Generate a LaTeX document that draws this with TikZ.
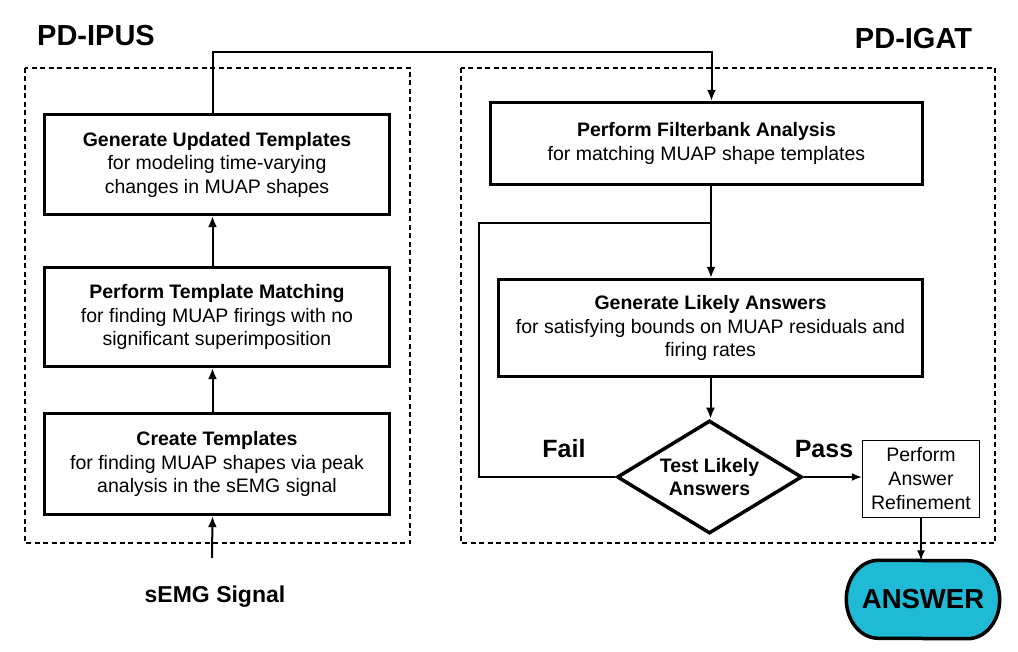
\documentclass[tikz,border=0pt]{standalone}
\usepackage{fontspec}
\setmainfont{Liberation Sans}
\usetikzlibrary{shapes.geometric,arrows.meta}
\definecolor{answercyan}{RGB}{31,186,214}
\newcommand\myfs[2]{\fontsize{#1}{#2}\selectfont}
\begin{document}
\begin{tikzpicture}[x=1pt,y=-1pt,
  mainbox/.style={draw,line width=3.3pt,align=center,inner sep=0pt,font=\myfs{19.5}{23.5}},
  thinbox/.style={draw,line width=1.5pt,align=center,inner sep=0pt,font=\myfs{19.5}{24}},
  groupbox/.style={draw,line width=1.3pt,dash pattern=on 5pt off 3.5pt},
  conn/.style={line width=2pt,-{Latex[length=11pt,width=9pt]}},
  thinconn/.style={line width=1.4pt,-{Latex[length=10pt,width=8pt]}},
  plainline/.style={line width=2pt},
  titletext/.style={font=\bfseries\myfs{29}{29}},
  lbltext/.style={font=\bfseries\myfs{25}{25}},
  terminal/.style={draw,fill=answercyan,line width=3.5pt}]

\useasboundingbox (0,0) rectangle (1018,652);

% group frames
\draw[groupbox] (25,68) rectangle (410,543);
\draw[groupbox] (461,68) rectangle (995,543);

\node[titletext] (tl) at (96,36) {PD-IPUS};
\node[titletext] (tr) at (913.5,39) {PD-IGAT};

% left column
\node[mainbox,minimum width=345pt,minimum height=100pt] (b1) at (217,164.5)
  {\textbf{Generate Updated Templates}\\for modeling time-varying\\changes in MUAP shapes};
\node[mainbox,minimum width=345pt,minimum height=99pt] (b2) at (217,317)
  {\textbf{Perform Template Matching}\\for finding MUAP firings with no\\significant superimposition};
\node[mainbox,minimum width=345pt,minimum height=101pt] (b3) at (217,464)
  {\textbf{Create Templates}\\for finding MUAP shapes via peak\\analysis in the sEMG signal};
\node[font=\bfseries\myfs{23}{23}] (sig) at (215,597) {sEMG Signal};
\coordinate (sigtop) at (212,558);

% right column
\node[mainbox,minimum width=432pt,minimum height=82pt] (fb) at (706.5,143.5)
  {\textbf{Perform Filterbank Analysis}\\for matching MUAP shape templates};
\node[mainbox,minimum width=424pt,minimum height=97pt] (gen) at (710.5,328)
  {\textbf{Generate Likely Answers}\\for satisfying bounds on MUAP residuals and\\firing rates};
\node[draw,diamond,line width=3.5pt,aspect=1.62,minimum width=185pt,minimum height=113pt,
  inner sep=0pt,align=center,font=\bfseries\myfs{19.5}{23}] (dia) at (709.5,477) {Test Likely\\Answers};
\node[thinbox,minimum width=117pt,minimum height=77pt] (ref) at (921,479) {Perform\\Answer\\Refinement};

% terminal ANSWER: outline with half-elliptic ends
\node[inner sep=0pt,minimum width=153pt,minimum height=78pt] (ans) at (923,599.5) {};
\draw[terminal] ([xshift=32pt]ans.north west) arc[start angle=90,end angle=270,x radius=32pt,y radius=39pt]
  -- ([xshift=-32pt]ans.south east) arc[start angle=-90,end angle=90,x radius=32pt,y radius=39pt] -- cycle;
\node[font=\bfseries\myfs{27.5}{27.5}] (anstext) at (ans) {ANSWER};

\node[lbltext] (fail) at (564,449) {Fail};
\node[lbltext] (pass) at (824,449) {Pass};

\coordinate (join) at (711,223);
\coordinate (loopc) at (479,223);

% connectors
\draw[conn] (sigtop) -- ([xshift=-4.5pt]b3.south);
\draw[conn] ([xshift=-4.5pt]b3.north) -- ([xshift=-4.5pt]b2.south);
\draw[conn] ([xshift=-4.5pt]b2.north) -- ([xshift=-4.5pt]b1.south);
\draw[conn] ([xshift=-4.5pt]b1.north) -- ++(0,-61) -| ([xshift=5pt]fb.north);
\draw[conn] ([xshift=4.5pt]fb.south) -- ([xshift=4.5pt]fb.south |- gen.north);
\draw[plainline] (dia.west) -| (loopc) -- (join);
\draw[conn] (gen.south) -- (gen.south |- dia.north);
\draw[thinconn] (dia.east) -- (dia.east -| ref.west);
\draw[thinconn] (ref.south) -- (ref.south |- ans.north);
\end{tikzpicture}
\end{document}
